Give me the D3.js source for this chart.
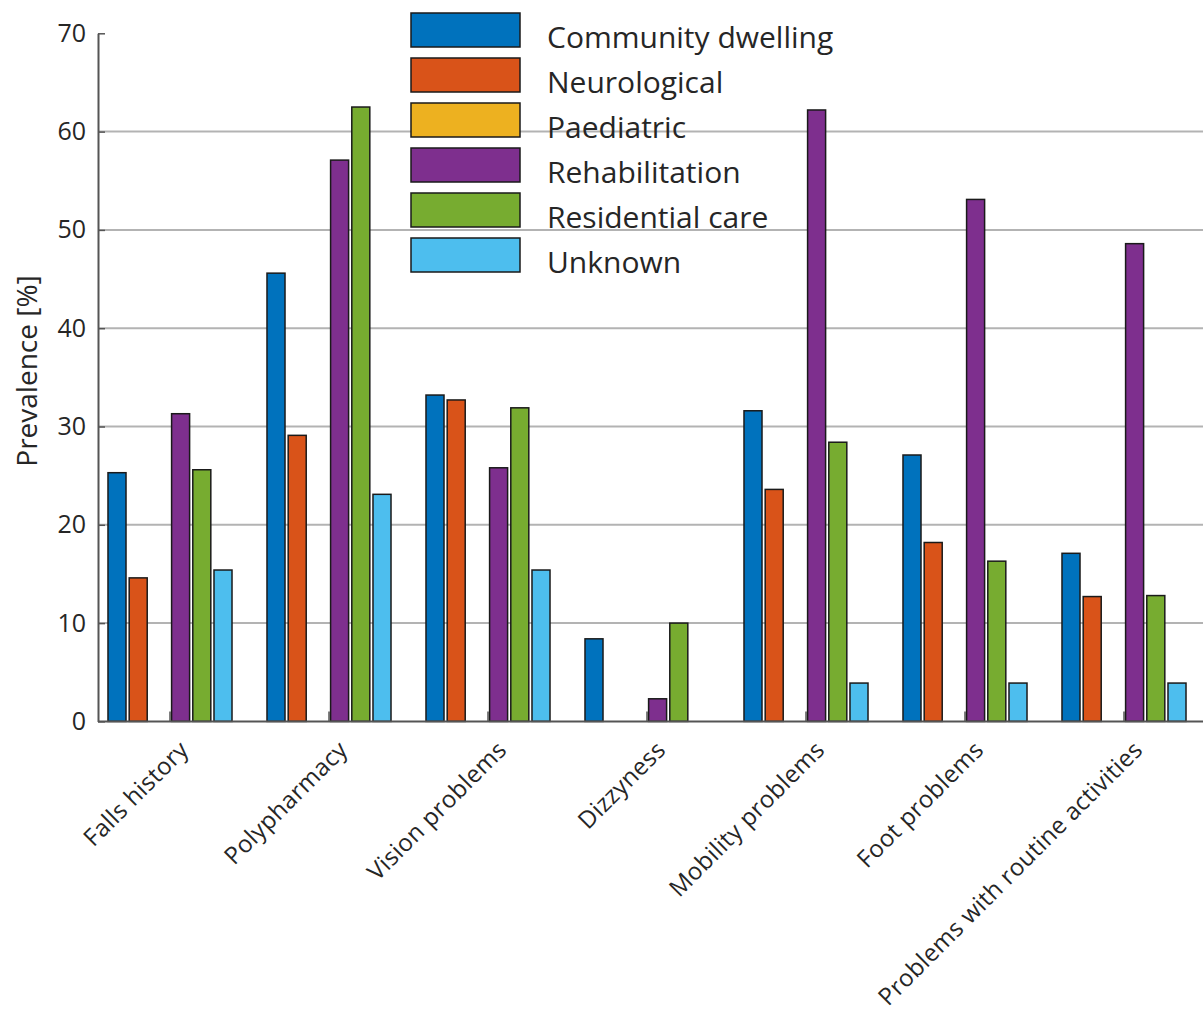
<!DOCTYPE html>
<html><head><meta charset="utf-8">
<script src="https://cdn.jsdelivr.net/npm/d3@7"></script>
<style>body{margin:0;background:#fff}svg{display:block}text{font-family:"Open Sans",sans-serif;fill:#262626}</style>
</head><body>
<script>
const categories = ["Falls history","Polypharmacy","Vision problems","Dizzyness","Mobility problems","Foot problems","Problems with routine activities"];
const seriesNames = ["Community dwelling","Neurological","Paediatric","Rehabilitation","Residential care","Unknown"];
const seriesColors = ["#0072BD","#D95319","#EDB120","#7E2F8E","#77AC30","#4DBEEE"];
const communityDwelling = [25.3,45.6,33.2,8.4,31.6,27.1,17.1];
const neurological      = [14.6,29.1,32.7,0,23.6,18.2,12.7];
const paediatric        = [0,0,0,0,0,0,0];
const rehabilitation    = [31.3,57.1,25.8,2.3,62.2,53.1,48.6];
const residentialCare   = [25.6,62.5,31.9,10.0,28.4,16.3,12.8];
const unknown           = [15.4,23.1,15.4,0,3.9,3.9,3.9];
const seriesValues = [communityDwelling,neurological,paediatric,rehabilitation,residentialCare,unknown];
const yTicks = [0,10,20,30,40,50,60,70];

const W=1203,H=1015;
const svg=d3.select("body").append("svg").attr("width",W).attr("height",H);
const x0=98,xR=1203;
const y=d3.scaleLinear().domain([0,70]).range([721.4,33.3]);
const x=d3.scaleLinear().domain([1,7]).range([170,1124]);
const unit=x(2)-x(1);
const slot=unit*0.8/6, bw=slot*0.85;

// gridlines
svg.append("g").selectAll("line").data(yTicks.filter(t=>t>0&&t<70)).join("line")
  .attr("x1",x0).attr("x2",xR).attr("y1",d=>y(d)).attr("y2",d=>y(d))
  .attr("stroke","#b3b3b3").attr("stroke-width",2);

// x ticks (inward)
svg.append("g").selectAll("line").data(categories).join("line")
  .attr("x1",(d,i)=>x(i+1)).attr("x2",(d,i)=>x(i+1))
  .attr("y1",y(0)).attr("y2",y(0)-10).attr("stroke","#555").attr("stroke-width",1.5);

// bars
const g=svg.append("g");
seriesValues.forEach((vals,s)=>{
  g.append("g").selectAll("rect").data(vals).join("rect")
    .attr("x",(d,i)=>x(i+1)+(s-2.5)*slot-bw/2)
    .attr("width",bw)
    .attr("y",d=>y(d))
    .attr("height",d=>y(0)-y(d))
    .attr("fill",seriesColors[s])
    .attr("stroke","#1a1a1a").attr("stroke-width",1.5);
});

// axes lines
svg.append("line").attr("x1",x0).attr("x2",xR).attr("y1",y(0)).attr("y2",y(0)).attr("stroke","#555").attr("stroke-width",2);
const yAxis=d3.axisLeft(y).tickValues(yTicks).tickSize(-7).tickPadding(12).tickSizeOuter(0);
const ya=svg.append("g").attr("transform",`translate(${x0},0)`).call(yAxis);
ya.select(".domain").attr("stroke","#555").attr("stroke-width",2);
ya.selectAll(".tick line").attr("stroke","#555").attr("stroke-width",1.5);
ya.selectAll(".tick text").attr("font-size",25).attr("fill","#262626").attr("font-family","Open Sans, sans-serif");

// x labels
svg.append("g").selectAll("text").data(categories).join("text")
  .attr("transform",(d,i)=>`translate(${x(i+1)+14},${y(0)+24}) rotate(-45)`)
  .attr("text-anchor","end").attr("dy","0.35em").attr("font-size",24).attr("letter-spacing",0.3).text(d=>d);

// y label
svg.append("text").attr("transform","translate(27,371) rotate(-90)")
  .attr("text-anchor","middle").attr("dy","0.35em").attr("font-size",28).text("Prevalence [%]");

// legend
const leg=svg.append("g");
seriesNames.forEach((n,i)=>{
  const ty=13+i*45;
  leg.append("rect").attr("x",411).attr("y",ty).attr("width",109).attr("height",34)
    .attr("fill",seriesColors[i]).attr("stroke","#1a1a1a").attr("stroke-width",1.5);
  leg.append("text").attr("x",547).attr("y",ty+24).attr("dy","0.35em").attr("font-size",30).text(n);
});
</script>
</body></html>
